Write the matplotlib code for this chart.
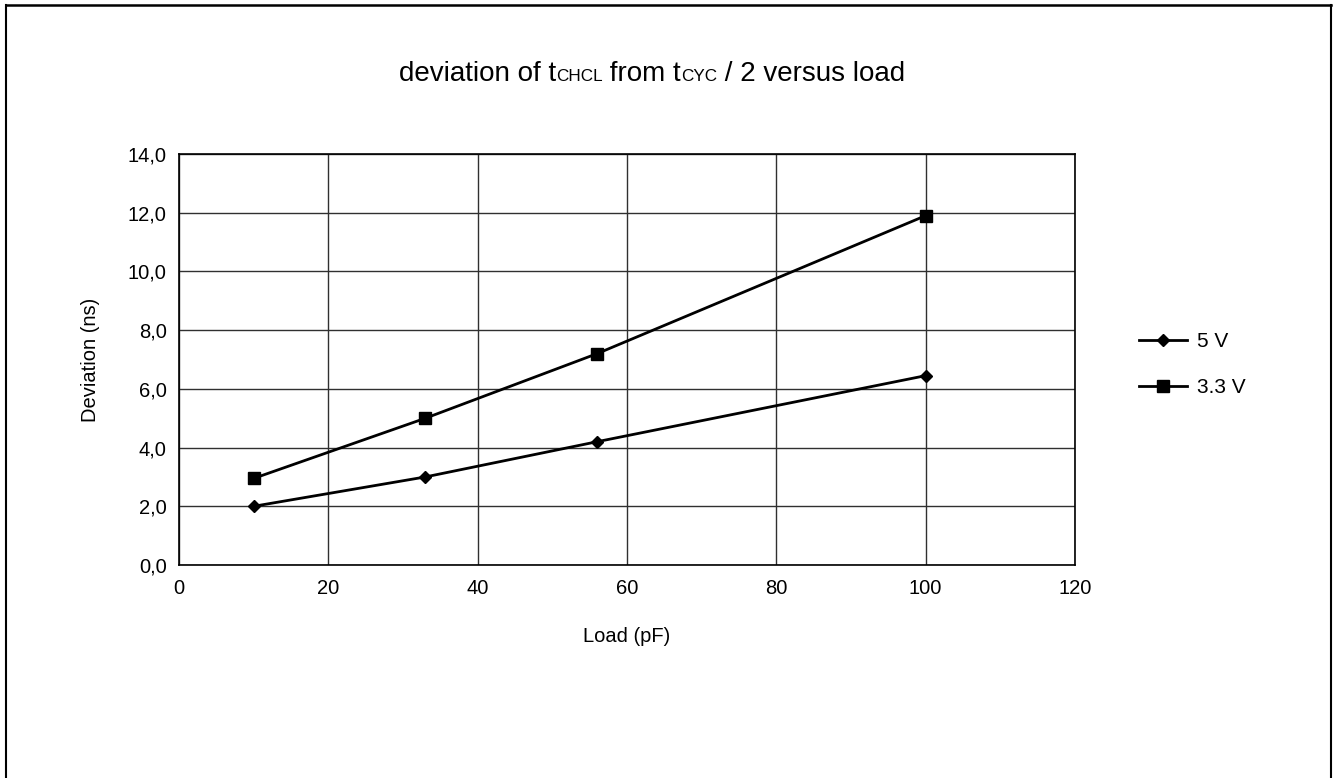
import matplotlib
matplotlib.use('Agg')
import matplotlib.pyplot as plt
from matplotlib.lines import Line2D
from matplotlib.ticker import FuncFormatter

plt.rcParams['font.family'] = ['Liberation Sans', 'DejaVu Sans']

# data
load = [10, 33, 56, 100]
dev_5v = [2.0, 3.0, 4.2, 6.45]
dev_33v = [2.95, 5.0, 7.2, 11.9]
x_ticks = [0, 20, 40, 60, 80, 100, 120]
y_ticks = [0, 2, 4, 6, 8, 10, 12, 14]

W, H = 1334, 778
fig = plt.figure(figsize=(W / 100, H / 100), dpi=100)
ax = fig.add_axes([179 / W, 1 - 565 / H, (1075 - 179) / W, (565 - 154) / H])

ax.plot(load, dev_5v, color='black', lw=2, marker='D', ms=6.5, label='5 V')
ax.plot(load, dev_33v, color='black', lw=2, marker='s', ms=8, label='3.3 V')

ax.set_xlim(0, 120)
ax.set_ylim(0, 14)
ax.set_xticks(x_ticks)
ax.set_yticks(y_ticks)
ax.yaxis.set_major_formatter(FuncFormatter(lambda v, p: f'{v:.1f}'.replace('.', ',')))
ax.tick_params(length=0, labelsize=14.5)
ax.tick_params(axis='y', pad=9)
ax.tick_params(axis='x', pad=10)
ax.grid(True, color='#303030', lw=1)
ax.set_axisbelow(True)
for s in ax.spines.values():
    s.set_color('black')
    s.set_linewidth(1.2)

ax.set_xlabel('Load (pF)', fontsize=14.5)
ax.xaxis.label.set_va('center')
ax.xaxis.set_label_coords(0.5, (565 - 637) / 411)
ax.set_ylabel('Deviation (ns)', fontsize=14.5)
ax.yaxis.label.set_va('center')
ax.yaxis.set_label_coords((90 - 179) / 896, 0.5)

ax.legend(loc='center left', bbox_to_anchor=(1139 / W, 1 - 364.5 / H),
          bbox_transform=fig.transFigure, frameon=False, fontsize=15,
          handlelength=2.3, handletextpad=0.5, labelspacing=1.3,
          borderpad=0, borderaxespad=0, numpoints=1)

# title with small subscript-style parts, laid out piece by piece
pieces = [('deviation of t', 20), ('CHCL', 12.3), (' from t', 20),
          ('CYC', 12.3), (' / 2 versus load', 20)]
r = fig.canvas.get_renderer()
texts = [fig.text(0, 1 - 81 / H, s, fontsize=fs, va='baseline') for s, fs in pieces]
widths = [t.get_window_extent(r).width for t in texts]
x = 652 - sum(widths) / 2
for t, w in zip(texts, widths):
    t.set_x(x / W)
    x += w

# outer frame
fig.add_artist(Line2D([6 / W, 6 / W], [0, 1 - 5 / H], transform=fig.transFigure, color='black', lw=1.5))
fig.add_artist(Line2D([1331 / W, 1331 / W], [0, 1 - 5 / H], transform=fig.transFigure, color='black', lw=1.5))
fig.add_artist(Line2D([6 / W, 1331 / W], [1 - 5 / H, 1 - 5 / H], transform=fig.transFigure, color='black', lw=1.8))

fig.savefig('out.png', dpi=100)
